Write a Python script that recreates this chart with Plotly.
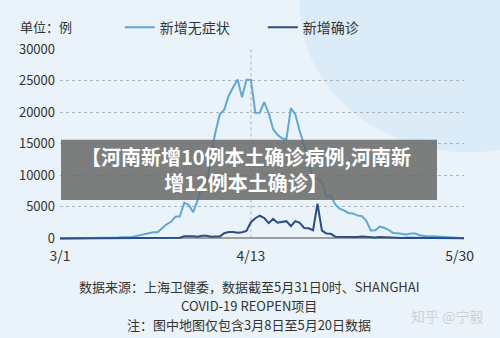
import pandas as pd
import plotly.graph_objects as go

dates = pd.date_range("2022-03-01", "2022-05-31").strftime("%Y-%m-%d").tolist()

asymptomatic = [
    1, 3, 2, 16, 28, 45, 51, 62, 76, 64, 78, 64, 128, 130, 197, 150, 203, 366, 492, 734,
    865, 977, 979, 1582, 2231, 2631, 3450, 3500, 5656, 5298, 4144,
    6051, 8226, 8581, 13086, 16766, 19660, 20398, 22609, 23937, 25173, 22348, 25141, 25146,
    19872, 19923, 21582, 19831, 17332, 16407, 15861, 15698, 20634, 19657, 16983, 14797,
    11956, 9330, 9545, 8932, 6606,
    6804, 5395, 4722, 4390, 4024, 3961, 3625, 3538, 2780, 1259, 1305, 1869, 1681, 1369,
    869, 823, 759, 635, 770, 784, 503, 422, 290, 338, 290, 219, 84, 122, 29, 22, 10,
]
confirmed = [
    1, 0, 3, 3, 0, 3, 4, 3, 4, 11, 5, 1, 41, 5, 5, 8, 57, 8, 17, 24, 31, 4, 4, 29, 38,
    45, 50, 96, 326, 355, 358,
    260, 438, 425, 268, 311, 322, 824, 1015, 1006, 914, 994, 1189, 2573, 3200, 3590, 3238,
    2417, 3084, 2494, 2634, 2736, 1931, 2736, 2472, 1661, 1606, 1292, 5487, 1249, 788,
    727, 274, 260, 261, 245, 253, 215, 322, 234, 228, 144, 227, 194, 166, 69, 96, 82, 96,
    88, 84, 67, 58, 55, 48, 45, 45, 29, 39, 31, 45, 15,
]

series_names = ["新增无症状", "新增确诊"]
x_tickvals = ["2022-03-01", "2022-04-13", "2022-05-30"]
x_ticktext = ["3/1", "4/13", "5/30"]
y_tickvals = [0, 5000, 10000, 15000, 20000, 25000, 30000]
y_ticktext = ["0", "5000", "10000", "15000", "20000", "25000", "30000"]

FONT = "Noto Sans CJK SC"
TXT = "#333333"

ML, MR, MT, MB, W, H = 60, 36, 44, 98, 500, 338
PW, PH = W - ML - MR, H - MT - MB


def px(x):
    return (x - ML) / PW


def py(y):
    return (H - MB - y) / PH


fig = go.Figure()
fig.add_trace(go.Scatter(x=dates, y=asymptomatic, mode="lines", name=series_names[0],
                         line=dict(color="#5ea7d9", width=2)))
fig.add_trace(go.Scatter(x=dates, y=confirmed, mode="lines", name=series_names[1],
                         line=dict(color="#2c4c85", width=2)))

fig.update_layout(
    width=W, height=H,
    margin=dict(l=ML, r=MR, t=MT, b=MB),
    paper_bgcolor="#eaf3f9",
    plot_bgcolor="rgba(0,0,0,0)",
    font=dict(family=FONT, color=TXT, size=13),
    showlegend=True,
    legend=dict(orientation="h", x=0.148, y=py(22), xanchor="left", yanchor="middle",
                font=dict(size=14, color=TXT), bgcolor="rgba(0,0,0,0)",
                entrywidth=98, entrywidthmode="pixels", itemwidth=30),
    xaxis=dict(range=["2022-03-01", "2022-05-31"], tickvals=x_tickvals, ticktext=x_ticktext,
               showgrid=False, zeroline=False, showline=False, ticks="",
               ticklabelstandoff=6, tickfont=dict(size=14, color=TXT)),
    yaxis=dict(range=[-250, 30000], tickvals=y_tickvals, ticktext=y_ticktext, showgrid=True,
               gridcolor="#a9b3bb", griddash="dot", gridwidth=1,
               zeroline=True, zerolinecolor="#9a9fa3", zerolinewidth=1.5,
               ticks="", ticklabelstandoff=4, tickfont=dict(size=13, color=TXT)),
)

# soft background tint (bluer at top right)
fig.add_shape(type="circle", xref="paper", yref="paper", x0=px(300), x1=px(640),
              y0=py(150), y1=py(-150), fillcolor="rgba(205,228,245,0.55)",
              line=dict(width=0), layer="below")

# vertical dotted reference line at 4/13
fig.add_shape(type="line", xref="x", yref="y", x0="2022-04-13", x1="2022-04-13",
              y0=0, y1=30000, line=dict(color="#a9b3bb", width=1, dash="dot"), layer="below")

fig.add_annotation(text="单位：例", xref="paper", yref="paper", x=px(18), y=py(21),
                   xanchor="left", yanchor="middle", showarrow=False,
                   font=dict(size=13, color=TXT))

# grey overlay banner
fig.add_shape(type="rect", xref="paper", yref="paper", x0=px(61), x1=px(437),
              y0=py(199), y1=py(137),
              fillcolor="rgba(105,105,105,0.85)", line=dict(width=0), layer="above")
fig.add_annotation(text="<b>【河南新增10例本土确诊病例,河南新<br>增12例本土确诊】</b>",
                   xref="paper", yref="paper", x=px(246), y=py(168),
                   xanchor="center", yanchor="middle", showarrow=False, align="center",
                   font=dict(size=20, color="white"))

# footer
footer = [
    ("数据来源：上海卫健委，数据截至5月31日0时、SHANGHAI", 288),
    ("COVID-19 REOPEN项目", 307),
    ("注：图中地图仅包含3月8日至5月20日数据", 327),
]
for t, yy in footer:
    fig.add_annotation(text=t, xref="paper", yref="paper", x=px(249),
                       y=py(yy), xanchor="center", yanchor="middle",
                       showarrow=False, font=dict(size=13, color=TXT))

fig.add_annotation(text="知乎 @宁毅", xref="paper", yref="paper", x=px(447),
                   y=py(318), xanchor="center", yanchor="middle",
                   showarrow=False, font=dict(size=14, color="rgba(200,205,210,0.9)"))

fig.write_html("out.html")
